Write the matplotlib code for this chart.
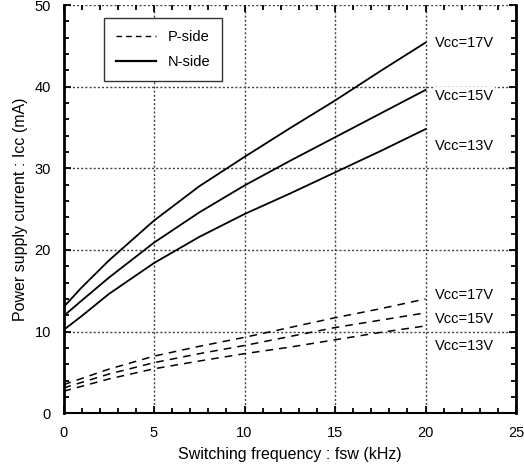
import matplotlib
matplotlib.use("Agg")
import matplotlib.pyplot as plt
from matplotlib.ticker import MultipleLocator
from matplotlib.lines import Line2D

plt.rcParams['font.family'] = ['Liberation Sans', 'DejaVu Sans']

# switching frequency (kHz)
fsw_n = [0, 1, 2.5, 5, 7.5, 10, 12.5, 15, 17.5, 20]
n_17v = [13.0, 15.4, 18.7, 23.6, 27.8, 31.4, 34.9, 38.3, 41.9, 45.4]
n_15v = [11.9, 13.8, 16.6, 20.9, 24.6, 27.9, 30.9, 33.8, 36.7, 39.6]
n_13v = [10.2, 11.9, 14.6, 18.4, 21.6, 24.4, 26.9, 29.5, 32.1, 34.8]

fsw_p = [0, 2.5, 5, 7.5, 10, 12.5, 15, 17.5, 20]
p_17v = [3.5, 5.4, 7.0, 8.2, 9.3, 10.5, 11.7, 12.8, 14.0]
p_15v = [3.1, 4.8, 6.2, 7.3, 8.3, 9.4, 10.5, 11.4, 12.3]
p_13v = [2.7, 4.2, 5.45, 6.4, 7.3, 8.1, 9.0, 9.9, 10.7]

n_labels = ["Vcc=17V", "Vcc=15V", "Vcc=13V"]
n_label_y = [45.3, 38.9, 32.7]
p_labels = ["Vcc=17V", "Vcc=15V", "Vcc=13V"]
p_label_y = [14.5, 11.6, 8.2]

fig = plt.figure(figsize=(5.24, 4.72), dpi=100)
ax = fig.add_axes([0.1212, 0.1244, 0.8636, 0.865])

# grid
for gx in [5, 10, 15, 20]:
    ax.axvline(gx, color="#444444", lw=1.0, ls=(0, (1.5, 1.5)), zorder=1)
for gy in [0, 10, 20, 30, 40, 50]:
    ax.axhline(gy, color="#444444", lw=1.0, ls=(0, (1.5, 1.5)), zorder=1)

for y in [n_17v, n_15v, n_13v]:
    ax.plot(fsw_n, y, color="black", lw=1.3, zorder=3)
for y in [p_17v, p_15v, p_13v]:
    ax.plot(fsw_p, y, color="black", lw=1.1, ls=(0, (5, 4)), zorder=3)

for t, yy in zip(n_labels + p_labels, n_label_y + p_label_y):
    ax.text(20.5, yy, t, fontsize=10.5, va="center", ha="left", zorder=4,
            bbox=dict(facecolor="white", edgecolor="none", pad=1))

ax.set_xlim(0, 25)
ax.set_ylim(0, 50)
ax.xaxis.set_major_locator(MultipleLocator(5))
ax.xaxis.set_minor_locator(MultipleLocator(1))
ax.yaxis.set_major_locator(MultipleLocator(10))
ax.yaxis.set_minor_locator(MultipleLocator(2))
ax.tick_params(which="both", direction="in", top=True, right=True, width=1.3,
               labelsize=10.5, pad=9)
ax.tick_params(which="major", length=5)
ax.tick_params(which="minor", length=3.5)

ax.spines["top"].set_visible(False)
ax.spines["left"].set_linewidth(2)
ax.spines["right"].set_linewidth(2)
ax.spines["bottom"].set_linewidth(1.5)

ax.set_xlabel("Switching frequency : fsw (kHz)", fontsize=11.5, labelpad=5)
ax.set_ylabel("Power supply current : Icc (mA)", fontsize=11.5, labelpad=5)

handles = [Line2D([], [], color="black", lw=1.0, ls=(0, (4, 3))),
           Line2D([], [], color="black", lw=1.6)]
leg = ax.legend(handles, ["P-side", "N-side"], loc="upper left",
                bbox_to_anchor=(0.0895, 0.968), fontsize=10.5, fancybox=False,
                framealpha=1, edgecolor="#333333", handlelength=2.75,
                borderpad=0.8, labelspacing=0.8, handletextpad=0.8,
                borderaxespad=0)
leg.get_frame().set_linewidth(1.0)
leg.set_zorder(5)

fig.savefig("out.png", dpi=100)
